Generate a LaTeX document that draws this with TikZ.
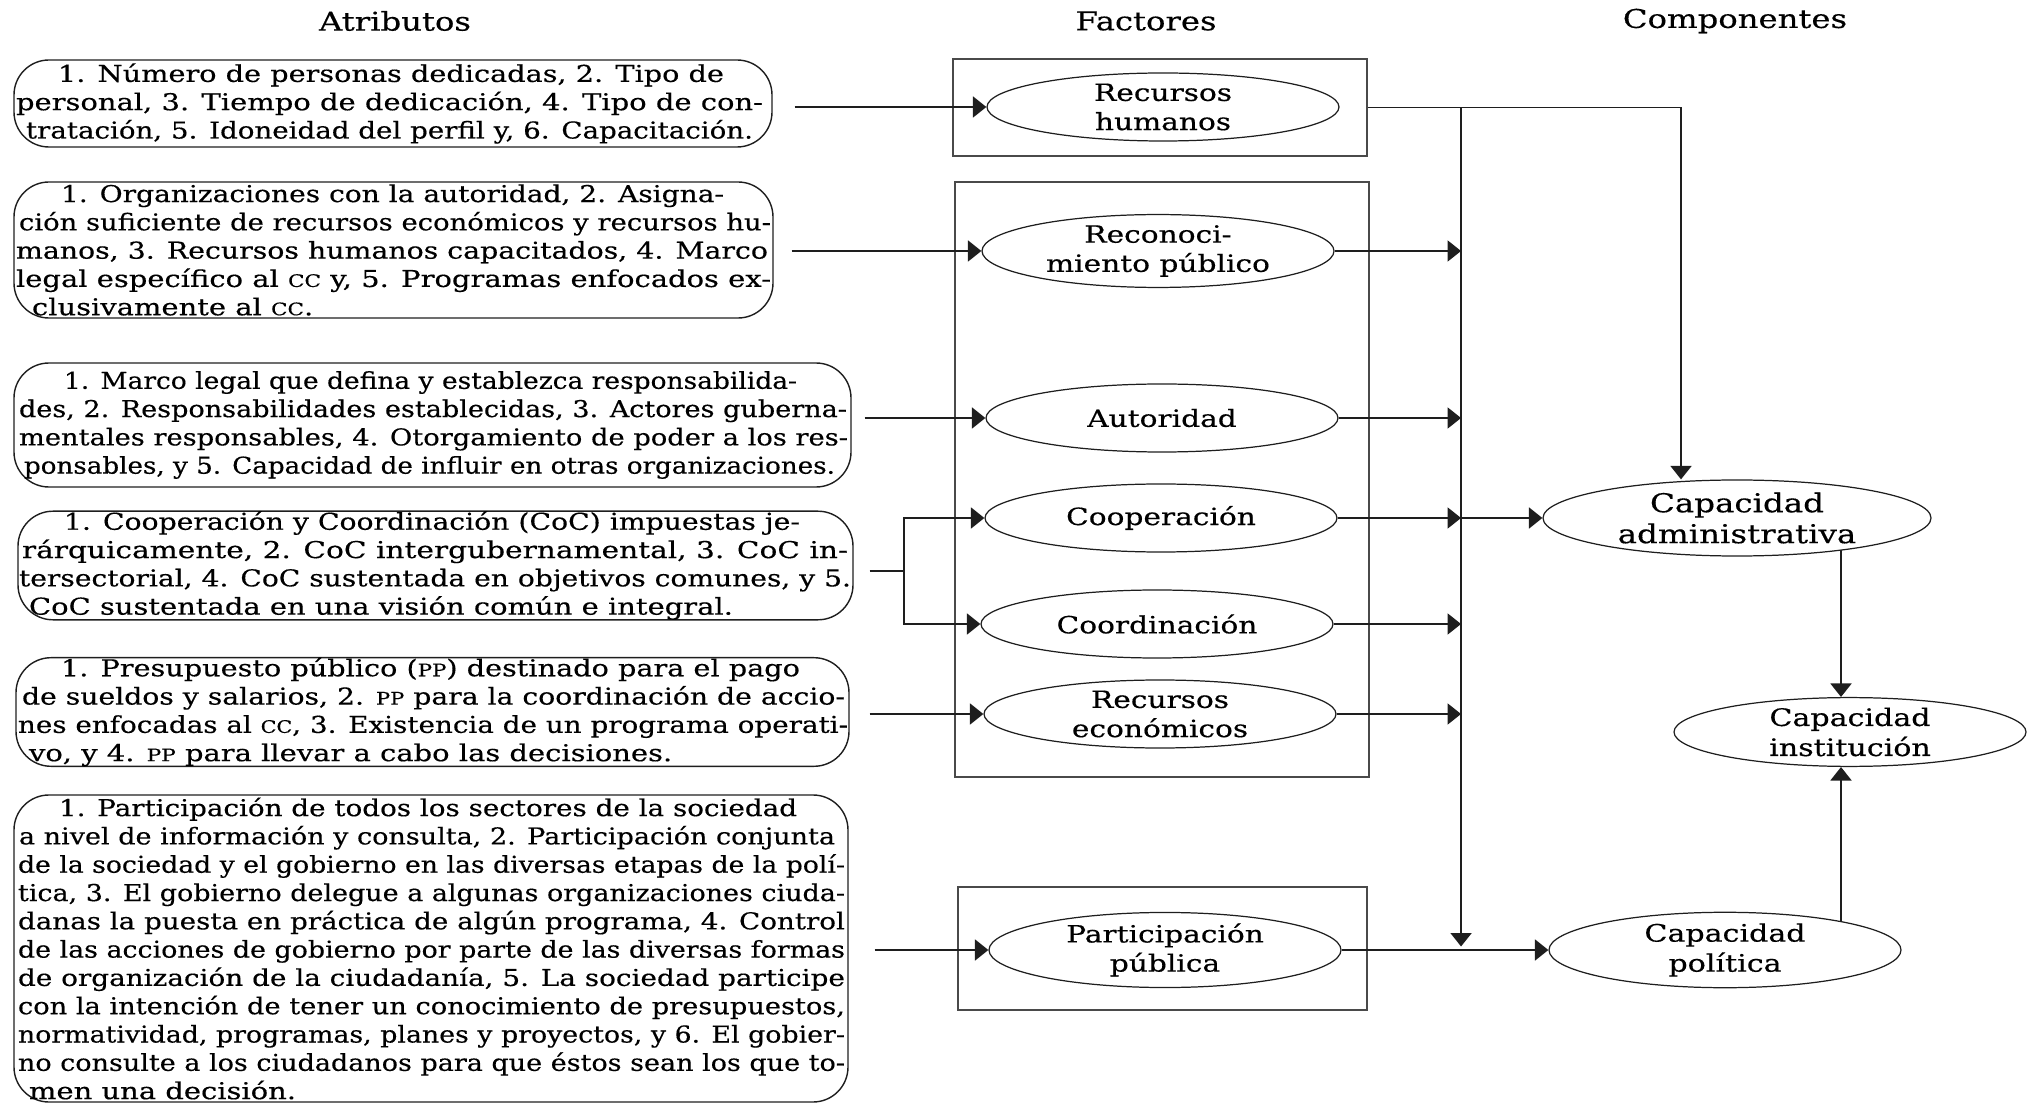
\documentclass[tikz,border=0pt]{standalone}
\usepackage{fontspec}
\setmainfont{DejaVu Serif}[FakeStretch=1.25,FakeBold=0.4]
\usepackage{graphicx}
\usetikzlibrary{arrows.meta,shapes.geometric,calc,backgrounds}
\newlength{\pxu}\setlength{\pxu}{0.02cm}
\newcommand\smc[1]{{\fontsize{9.8pt}{10pt}\selectfont #1}}
\newcommand\jl[3]{\hbox to \bw{\hspace*{#1\pxu}\resizebox{\dimexpr #2\pxu-#1\pxu\relax}{\height}{#3}\hfil}}
\newcommand\nl[2]{\hbox to \bw{\hspace*{#1\pxu}#2\hfil}}
\newcommand\blk[2]{\def\bw{#1\pxu}\vbox{\baselineskip=28.3\pxu\lineskiplimit=-\maxdimen #2}}
\definecolor{ink}{HTML}{1E1E1E}
\definecolor{frame}{HTML}{4A4A4A}
\tikzset{
  abox/.style={draw=ink, line width=0.8pt, rounded corners=0.7cm, inner sep=0pt,
    font=\fontsize{13.2pt}{16pt}\selectfont},
  fbox/.style={draw=frame, line width=1.2pt, inner sep=0pt},
  ell/.style={ellipse, draw=ink, line width=0.7pt, inner sep=0pt, align=center,
    minimum width=352\pxu, minimum height=68\pxu, fill=white,
    font=\fontsize{13.5pt}{16.6pt}\selectfont},
  hdr/.style={inner sep=0pt, font=\fontsize{14.7pt}{17pt}\selectfont},
  arr/.style={draw=ink, line width=1.1pt, -{Triangle[length=0.27cm,width=0.42cm]}},
  ln/.style={draw=ink, line width=1.1pt},
}
\begin{document}
\begin{tikzpicture}[x=0.02cm,y=-0.02cm]
\useasboundingbox (0,0) rectangle (2029,1104);
% headers
\node[hdr] (h1) at (395,21) {Atributos};
\node[hdr] (h2) at (1146,21) {Factores};
\node[hdr] (h3) at (1735,21) {Componentes};
% attribute boxes
\node[abox, minimum width=758\pxu, minimum height=87\pxu] (b1) at (393,103.5) {\blk{758}{%
\jl{44}{710}{1. Número de personas dedicadas, 2. Tipo de}
\jl{2}{749}{personal, 3. Tiempo de dedicación, 4. Tipo de con-}
\jl{12}{739}{tratación, 5. Idoneidad del perfil y, 6. Capacitación.}}};
\node[abox, minimum width=759\pxu, minimum height=136\pxu] (b2) at (393.5,250) {\blk{759}{%
\jl{47}{710}{1. Organizaciones con la autoridad, 2. Asigna-}
\jl{5}{757}{ción suficiente de recursos económicos y recursos hu-}
\jl{2}{754}{manos, 3. Recursos humanos capacitados, 4. Marco}
\jl{2}{757}{legal específico al \smc{CC} y, 5. Programas enfocados ex-}
\nl{18}{clusivamente al \smc{CC}.}}};
\node[abox, minimum width=837\pxu, minimum height=124\pxu] (b3) at (432.5,425) {\blk{837}{%
\jl{50}{783}{1. Marco legal que defina y establezca responsabilida-}
\jl{5}{833}{des, 2. Responsabilidades establecidas, 3. Actores guberna-}
\jl{5}{834}{mentales responsables, 4. Otorgamiento de poder a los res-}
\jl{10}{821}{ponsables, y 5. Capacidad de influir en otras organizaciones.}}};
\node[abox, minimum width=835\pxu, minimum height=107\pxu] (b4) at (435.5,565.5) {\blk{835}{%
\jl{46}{782}{1. Cooperación y Coordinación (CoC) impuestas je-}
\jl{4}{830}{rárquicamente, 2. CoC intergubernamental, 3. CoC in-}
\jl{1}{833}{tersectorial, 4. CoC sustentada en objetivos comunes, y 5.}
\nl{11}{CoC sustentada en una visión común e integral.}}};
\node[abox, minimum width=833\pxu, minimum height=108\pxu] (b5) at (432.5,712) {\blk{833}{%
\jl{45}{784}{1. Presupuesto público (\smc{PP}) destinado para el pago}
\jl{6}{829}{de sueldos y salarios, 2. \smc{PP} para la coordinación de accio-}
\jl{2}{832}{nes enfocadas al \smc{CC}, 3. Existencia de un programa operati-}
\nl{13}{vo, y 4. \smc{PP} para llevar a cabo las decisiones.}}};
\node[abox, minimum width=834\pxu, minimum height=307\pxu] (b6) at (431,948.5) {\blk{834}{%
\jl{45}{783}{1. Participación de todos los sectores de la sociedad}
\jl{5}{821}{a nivel de información y consulta, 2. Participación conjunta}
\jl{4}{831}{de la sociedad y el gobierno en las diversas etapas de la polí-}
\jl{4}{831}{tica, 3. El gobierno delegue a algunas organizaciones ciuda-}
\jl{4}{831}{danas la puesta en práctica de algún programa, 4. Control}
\jl{4}{831}{de las acciones de gobierno por parte de las diversas formas}
\jl{4}{831}{de organización de la ciudadanía, 5. La sociedad participe}
\jl{4}{831}{con la intención de tener un conocimiento de presupuestos,}
\jl{4}{831}{normatividad, programas, planes y proyectos, y 6. El gobier-}
\jl{4}{831}{no consulte a los ciudadanos para que éstos sean los que to-}
\nl{15}{men una decisión.}}};
% factor frames
\node[fbox, minimum width=414\pxu, minimum height=97\pxu] (R1) at (1160,107.5) {};
\node[fbox, minimum width=414\pxu, minimum height=595\pxu] (R2) at (1162,479.5) {};
\node[fbox, minimum width=409\pxu, minimum height=123\pxu] (R3) at (1162.5,948.5) {};
% factor ellipses
\node[ell] (e1) at (1163,107) {Recursos\\humanos};
\node[ell] (e2) at (1158,251) {Reconoci-\\miento público};
\node[ell] (e3) at (1162,418) {Autoridad};
\node[ell] (e4) at (1161,518) {Cooperación};
\node[ell] (e5) at (1157,624) {Coordinación};
\node[ell] (e6) at (1160,714) {Recursos\\económicos};
\node[ell] (e7) at (1165,950) {Participación\\pública};
% components
\node[ell, minimum width=388\pxu, minimum height=76\pxu, font=\fontsize{14.8pt}{17.6pt}\selectfont] (ca) at (1737,518) {Capacidad\\administrativa};
\node[ell, minimum height=66\pxu, font=\fontsize{13.7pt}{17.1pt}\selectfont] (ci) at (1850,732) {Capacidad\\institución};
\node[ell, font=\fontsize{13.7pt}{17.1pt}\selectfont] (cp) at (1725,950) {Capacidad\\política};
% attribute -> factor connectors
\draw[arr] ($(b1.east |- e1.west)+(22,0)$) -- (e1.west);
\draw[arr] ($(b2.east |- e2.west)+(18,0)$) -- (e2.west);
\draw[arr] ($(b3.east |- e3.west)+(13,0)$) -- (e3.west);
\coordinate (j) at (904,571);
\draw[ln] ($(b4.east |- j)+(16,0)$) -- (j);
\draw[arr] (j) -- (j |- e4.west) -- (e4.west);
\draw[arr] (j) -- (j |- e5.west) -- (e5.west);
\draw[arr] ($(b5.east |- e6.west)+(20,0)$) -- (e6.west);
\draw[arr] ($(b6.east |- e7.west)+(26,0)$) -- (e7.west);
% factor -> component connectors
\coordinate (vt) at ($(R1.east)+(93,0)$);
\coordinate (vb) at ($(vt)+(0,839)$);
\coordinate (ax) at (1681,0);
\coordinate (bx) at (1841,0);
\draw[arr] (R1.east) -| (ax |- ca.north);
\draw[arr] (vt) -- (vb);
\foreach \e in {e2,e3,e4,e5,e6} \draw[arr] (\e.east) -- (\e.east -| vt);
\draw[arr] (e4.east -| vt) -- (ca.west);
\draw[arr] (e7.east) -- (cp.west);
\begin{scope}[on background layer]
\draw[arr] (bx |- ca.center) -- (bx |- ci.north);
\draw[arr] (bx |- cp.center) -- (bx |- ci.south);
\end{scope}
\end{tikzpicture}
\end{document}
